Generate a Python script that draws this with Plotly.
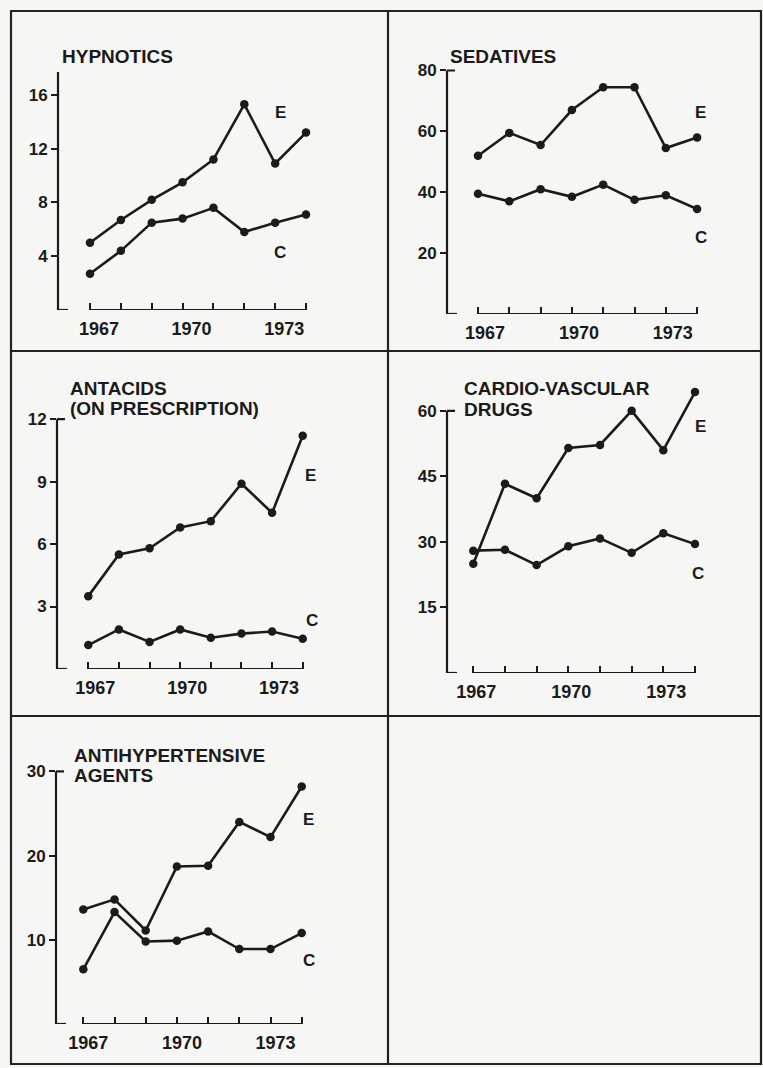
import plotly.graph_objects as go

# ---------------- data ----------------
years = [1967, 1968, 1969, 1970, 1971, 1972, 1973, 1974]
year_labels = ["1967", "", "", "1970", "", "", "1973", ""]

hypnotics_E = [5.0, 6.7, 8.2, 9.5, 11.2, 15.3, 10.9, 13.2]
hypnotics_C = [2.7, 4.4, 6.5, 6.8, 7.6, 5.8, 6.5, 7.1]
hypnotics_ticks = [4, 8, 12, 16]

sedatives_E = [52, 59.5, 55.5, 67, 74.5, 74.5, 54.5, 58]
sedatives_C = [39.5, 37, 41, 38.5, 42.5, 37.5, 39, 34.5]
sedatives_ticks = [20, 40, 60, 80]

antacids_E = [3.5, 5.5, 5.8, 6.8, 7.1, 8.9, 7.5, 11.2]
antacids_C = [1.15, 1.9, 1.3, 1.9, 1.5, 1.7, 1.8, 1.45]
antacids_ticks = [3, 6, 9, 12]

cardio_E = [25, 43.3, 40, 51.5, 52.2, 60, 51, 64.3]
cardio_C = [28, 28.2, 24.7, 29, 30.8, 27.5, 32, 29.5]
cardio_ticks = [15, 30, 45, 60]

antihyp_E = [13.6, 14.8, 11.1, 18.7, 18.8, 24, 22.2, 28.2]
antihyp_C = [6.5, 13.3, 9.8, 9.9, 11.0, 8.9, 8.9, 10.8]
antihyp_ticks = [10, 20, 30]

# ---------------- layout (pixel calibration) ----------------
W, H = 763, 1068
INK = "#1b1b1b"
FONT = "Liberation Sans, Arial, sans-serif"


def fx(px):
    return px / W


def fy(py):
    return 1 - py / H


panels = [
    dict(title=[("HYPNOTICS", 60, 57)], E=hypnotics_E, C=hypnotics_C, ticks=hypnotics_ticks,
         ax_x=58, py0=310, ppu=13.44, px1967=90, step=30.86, ytop=17.7, hook=False,
         lblE=(280, 113), lblC=(280, 253), shift=9),
    dict(title=[("SEDATIVES", 448, 57)], E=sedatives_E, C=sedatives_C, ticks=sedatives_ticks,
         ax_x=447, py0=314, ppu=3.044, px1967=478, step=31.3, ytop=80, hook=True,
         lblE=(700, 113), lblC=(701, 237), shift=7),
    dict(title=[("ANTACIDS", 68, 388), ("(ON PRESCRIPTION)", 68, 408)], E=antacids_E, C=antacids_C,
         ticks=antacids_ticks,
         ax_x=57, py0=669, ppu=20.82, px1967=88.3, step=30.63, ytop=12, hook=True,
         lblE=(310, 475), lblC=(312, 620), shift=7),
    dict(title=[("CARDIO-VASCULAR", 462, 388), ("DRUGS", 462, 409)], E=cardio_E, C=cardio_C,
         ticks=cardio_ticks,
         ax_x=447, py0=673, ppu=4.369, px1967=473.3, step=31.67, ytop=60, hook=True,
         lblE=(700, 427), lblC=(698, 573), shift=3),
    dict(title=[("ANTIHYPERTENSIVE", 72, 755), ("AGENTS", 72, 775)], E=antihyp_E, C=antihyp_C,
         ticks=antihyp_ticks,
         ax_x=56, py0=1024, ppu=8.42, px1967=83.3, step=31.2, ytop=30, hook=True,
         lblE=(308, 819), lblC=(309, 960), shift=5),
]

fig = go.Figure()
layout = dict(
    width=W, height=H, margin=dict(l=0, r=0, t=0, b=0),
    paper_bgcolor="#f6f6f4", plot_bgcolor="rgba(0,0,0,0)",
    showlegend=False, font=dict(family=FONT, color=INK, size=17, weight="bold"),
)
shapes = []
annotations = []

for i, p in enumerate(panels, start=1):
    sfx = "" if i == 1 else str(i)
    xa, ya = "x" + sfx, "y" + sfx
    px_right = p["px1967"] + 7 * p["step"] + 24
    yr = max(p["ytop"], max(p["E"]), max(p["C"])) * 1.06
    x0 = years[0] - (p["px1967"] - p["ax_x"]) / p["step"]
    x1 = years[0] + (px_right - p["px1967"]) / p["step"]
    dom_w = px_right - p["ax_x"]

    for series in (p["E"], p["C"]):
        fig.add_trace(go.Scatter(
            x=years, y=series, xaxis=xa, yaxis=ya, mode="lines+markers",
            line=dict(color=INK, width=2.6),
            marker=dict(color=INK, size=8.5),
            cliponaxis=False, hoverinfo="skip",
        ))

    layout["xaxis" + sfx] = dict(
        domain=[fx(p["ax_x"]), fx(px_right)], range=[x0, x1], anchor=ya,
        showline=False, showgrid=False, zeroline=False,
        tickmode="array", tickvals=years, ticktext=year_labels,
        ticks="inside", ticklen=7, tickwidth=2, tickcolor=INK,
        tickfont=dict(family=FONT, size=18, color=INK, weight="bold"),
        ticklabelshift=p["shift"], ticklabelstandoff=6,
    )
    layout["yaxis" + sfx] = dict(
        domain=[fy(p["py0"]), fy(p["py0"] - p["ppu"] * yr)], range=[0, yr], anchor=xa,
        showline=False, showgrid=False, zeroline=False,
        tickmode="array", tickvals=p["ticks"],
        ticks="outside", ticklen=6, tickwidth=2, tickcolor=INK,
        tickfont=dict(family=FONT, size=17, color=INK, weight="bold"),
    )

    line = dict(color=INK, width=2.2)
    # x axis line spanning first to last year
    shapes.append(dict(type="line", xref=xa, yref=ya, x0=years[0], x1=years[-1], y0=0, y1=0, line=line))
    # y axis line
    shapes.append(dict(type="line", xref=xa + " domain", yref=ya, x0=0, x1=0, y0=0, y1=p["ytop"], line=line))
    # foot at bottom
    shapes.append(dict(type="line", xref=xa + " domain", yref=ya, x0=0, x1=10 / dom_w, y0=0, y1=0, line=line))
    if p["hook"]:
        shapes.append(dict(type="line", xref=xa + " domain", yref=ya, x0=0, x1=8 / dom_w,
                           y0=p["ytop"], y1=p["ytop"], line=line))

    for text, lx, ly in p["title"]:
        annotations.append(dict(text=text, x=fx(lx), y=fy(ly), xref="paper", yref="paper",
                                xanchor="left", yanchor="middle", showarrow=False,
                                font=dict(family=FONT, size=19, color=INK, weight="bold")))
    for text, (lx, ly) in (("E", p["lblE"]), ("C", p["lblC"])):
        annotations.append(dict(text=text, x=fx(lx), y=fy(ly), xref="paper", yref="paper",
                                xanchor="center", yanchor="middle", showarrow=False,
                                font=dict(family=FONT, size=17, color=INK, weight="bold")))

# frame
frame = dict(color="#222222", width=2.2)
shapes.append(dict(type="rect", xref="paper", yref="paper", x0=fx(11), x1=fx(761), y0=fy(11), y1=fy(1064),
                   line=frame))
shapes.append(dict(type="line", xref="paper", yref="paper", x0=fx(388), x1=fx(388), y0=fy(11), y1=fy(1064),
                   line=frame))
shapes.append(dict(type="line", xref="paper", yref="paper", x0=fx(11), x1=fx(761), y0=fy(351), y1=fy(351),
                   line=frame))
shapes.append(dict(type="line", xref="paper", yref="paper", x0=fx(11), x1=fx(761), y0=fy(716), y1=fy(716),
                   line=frame))

layout["shapes"] = shapes
layout["annotations"] = annotations
fig.update_layout(**layout)
fig.write_html(
    "out.html",
    config={"displayModeBar": False},
    post_script="document.body.style.margin='0';document.body.style.overflow='hidden';"
                "document.body.style.background='#f6f6f4';",
)
